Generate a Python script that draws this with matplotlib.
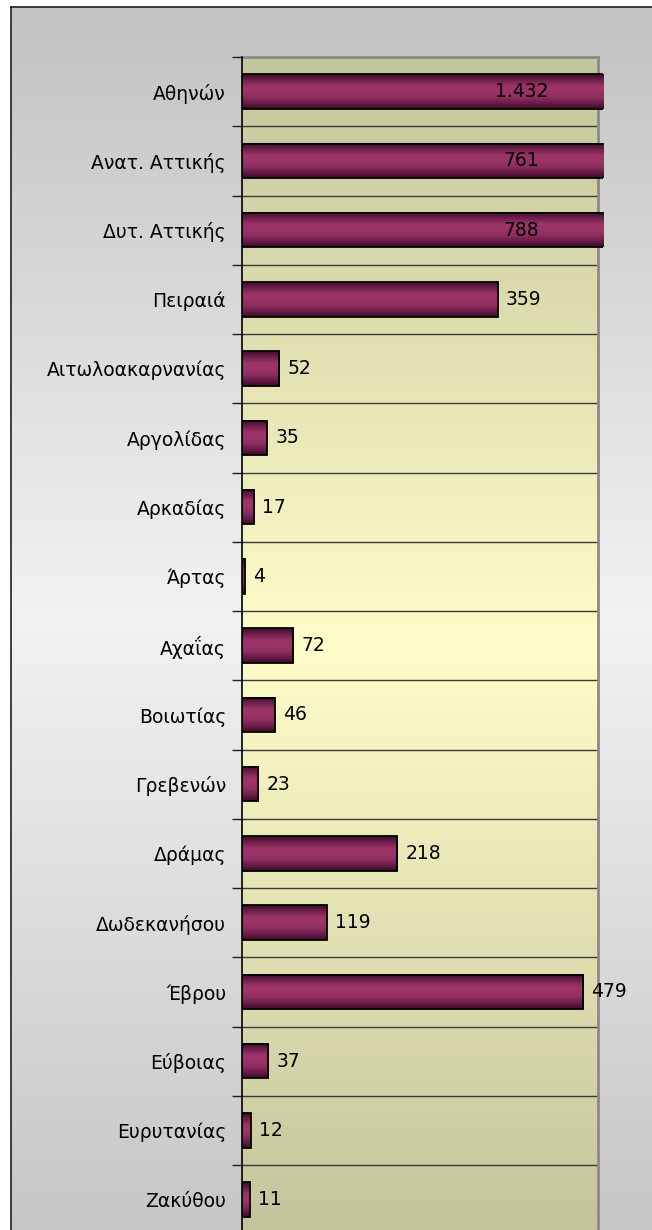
import numpy as np
import matplotlib
matplotlib.use("Agg")
import matplotlib.pyplot as plt
from matplotlib.colors import LinearSegmentedColormap
from matplotlib.transforms import Bbox, TransformedBbox

categories = ["Αθηνών", "Ανατ. Αττικής", "Δυτ. Αττικής", "Πειραιά", "Αιτωλοακαρνανίας",
              "Αργολίδας", "Αρκαδίας", "Άρτας", "Αχαΐας", "Βοιωτίας", "Γρεβενών", "Δράμας",
              "Δωδεκανήσου", "Έβρου", "Εύβοιας", "Ευρυτανίας", "Ζακύθου"]
values = [1432, 761, 788, 359, 52, 35, 17, 4, 72, 46, 23, 218, 119, 479, 37, 12, 11]
value_labels = ["1.432", "761", "788", "359", "52", "35", "17", "4", "72", "46", "23",
                "218", "119", "479", "37", "12", "11"]
x_max = 500

plt.rcParams['font.family'] = ['DejaVu Sans']
FS = 13.5

W, H = 652, 1230
fig = plt.figure(figsize=(W / 100, H / 100), dpi=100)
fig.patch.set_facecolor("white")

# chart area background (grey gradient)
bg = fig.add_axes([11 / W, 0, 1 - 11 / W, 1 - 7 / H], zorder=0)
grey = LinearSegmentedColormap.from_list("g", ["#c2c2c2", "#f2f2f2", "#c6c6c6"])
bg.imshow(np.linspace(0, 1, 256).reshape(-1, 1), cmap=grey, aspect="auto",
          extent=[0, 1, 0, 1], origin="upper")
bg.set_xlim(0, 1); bg.set_ylim(0, 1)
bg.set_xticks([]); bg.set_yticks([])
for s in ["right", "bottom"]:
    bg.spines[s].set_visible(False)
for s in ["left", "top"]:
    bg.spines[s].set_color("#202020")
    bg.spines[s].set_linewidth(1.2)

# plot area
top_px = 57
row_h = 69.25
n = len(categories)
bottom_px = top_px + n * row_h
ax = fig.add_axes([242 / W, (H - bottom_px) / H, (598 - 242) / W, (bottom_px - top_px) / H], zorder=1)
ax.set_xlim(0, x_max)
ax.set_ylim(n - 0.5, -0.5)

olive = LinearSegmentedColormap.from_list("o", ["#c3c59c", "#fffdc9", "#c3c49c"])
ax.imshow(np.linspace(0, 1, 256).reshape(-1, 1), cmap=olive, aspect="auto",
          extent=[0, x_max, n - 0.5, -0.5], origin="upper", zorder=0)

# gridlines at category boundaries
for b in np.arange(0.5, n - 0.5, 1):
    ax.axhline(b, color="#3a3a3a", lw=1.0, zorder=1)

y = np.arange(n)
bars = ax.barh(y, values, height=0.5, color="none", edgecolor="black", lw=1.3, zorder=3)

bar_cmap = LinearSegmentedColormap.from_list(
    "b", ["#3a0c26", "#6e1f4b", "#9a3366", "#9c3468", "#8f2e5f", "#6a1c48", "#3a0c26"])
clip_bbox = TransformedBbox(Bbox([[0, 0], [1.015, 1]]), ax.transAxes)
for bar in bars:
    x0, y0 = bar.get_x(), bar.get_y()
    w, h = bar.get_width(), bar.get_height()
    im = ax.imshow(np.linspace(0, 1, 128).reshape(-1, 1), cmap=bar_cmap, aspect="auto",
                   extent=[x0, x0 + w, y0 + h, y0], origin="upper", zorder=2.8,
                   interpolation="bilinear")
    im.set_clip_path(bar)
    im.set_clip_box(clip_bbox)
    bar.set_clip_box(clip_bbox)
ax.set_xlim(0, x_max)
ax.set_ylim(n - 0.5, -0.5)

# value labels
for yi, v, lab in zip(y, values, value_labels):
    if v > x_max:
        ax.text(0.785, yi, lab, transform=ax.get_yaxis_transform(), ha="center",
                va="center", fontsize=FS, color="black", zorder=5)
    else:
        ax.annotate(lab, (v, yi), xytext=(6, 0), textcoords="offset points",
                    ha="left", va="center", fontsize=FS, color="black", zorder=5,
                    annotation_clip=False)

ax.set_yticks(y)
ax.set_yticklabels(categories, fontsize=FS)
ax.tick_params(axis="y", which="major", length=0, pad=11.5)
ax.set_yticks(np.arange(-0.5, n, 1), minor=True)
ax.tick_params(axis="y", which="minor", length=7, width=1, color="#202020", direction="out")
ax.set_xticks([])

ax.spines["left"].set_color("black")
ax.spines["left"].set_linewidth(1.2)
for s in ["top", "right", "bottom"]:
    ax.spines[s].set_color("#8a8a8a")
    ax.spines[s].set_linewidth(2)
    ax.spines[s].set_zorder(1.5)

fig.savefig("out.png", dpi=100)
